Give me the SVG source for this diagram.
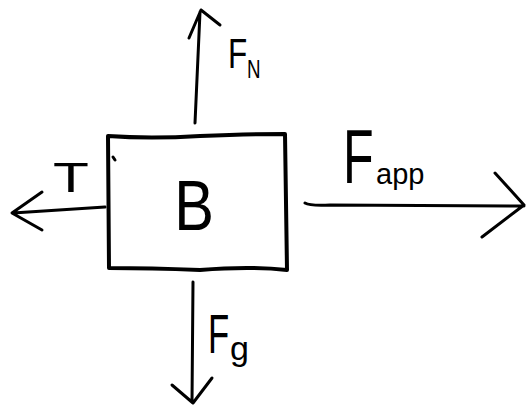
<svg xmlns="http://www.w3.org/2000/svg" width="526" height="407" viewBox="0 0 526 407">
<style>
.ln{fill:none;stroke:#000;stroke-width:3;stroke-linecap:round;stroke-linejoin:round}
.bx{fill:#fff;stroke:#000;stroke-width:4;stroke-linejoin:round}
.t{font-family:"Liberation Sans",Arial,sans-serif;fill:#000}
</style>
<rect width="526" height="407" fill="#fff"/>
<g id="connectors">
<g id="arrow-FN"><path class="ln" d="M195,123 L200,12 M189,38 L201,10 L220,25"/></g>
<g id="arrow-T"><path class="ln" d="M105,207 L13,213 M42,192 L12,213 L42,230"/></g>
<g id="arrow-Fapp"><path class="ln" d="M305,203 Q310,206 330,205 L524,206 M495,173 L524,205 L482,237"/></g>
<g id="arrow-Fg"><path class="ln" d="M193,282 L192,402 M172,385 L193,403 L212,378"/></g>
</g>
<g id="node-B">
<path class="bx" d="M108,136 Q150,139 200,136 Q250,134 285,134 L287,270 Q250,266 200,270 Q150,268 109,268 Z"/>
<path class="ln" d="M113,157 L115,160"/>
<text class="t" x="194" y="230" font-size="70" text-anchor="middle" transform="translate(194 0) scale(0.85 1) translate(-194 0)">B</text>
</g>
<g id="label-FN">
<text class="t" x="228" y="68" font-size="42" transform="translate(228 0) scale(0.75 1) translate(-228 0)">F</text>
<text class="t" x="247" y="78" font-size="25" transform="translate(247 0) scale(0.75 1) translate(-247 0)">N</text>
</g>
<g id="label-T"><text class="t" x="71" y="192" font-size="42" text-anchor="middle" transform="translate(71 0) scale(1.4 1) translate(-71 0)">T</text></g>
<g id="label-Fapp">
<text class="t" x="343" y="183" font-size="76" transform="translate(343 0) scale(0.66 1) translate(-343 0)">F</text>
<text class="t" x="376" y="184" font-size="29">app</text>
</g>
<g id="label-Fg">
<text class="t" x="208" y="353" font-size="56" transform="translate(208 0) scale(0.62 1) translate(-208 0)">F</text>
<text class="t" x="230" y="360" font-size="34">g</text>
</g>
</svg>
